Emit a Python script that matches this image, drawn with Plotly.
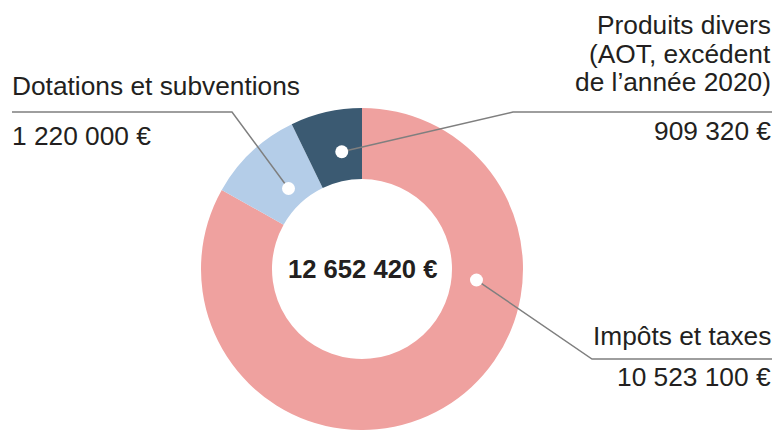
import math
import plotly.graph_objects as go

# ---- data ----
categories = ["Impôts et taxes", "Dotations et subventions", "Produits divers"]
values = [10523100, 1220000, 909320]
label_lines = [
    ["Impôts et taxes"],
    ["Dotations et subventions"],
    ["Produits divers", "(AOT, excédent", "de l’année 2020)"],
]
colors = ["#EFA19F", "#B4CDE8", "#3B5A72"]


def fmt_eur(v):
    return f"{v:,}".replace(",", " ") + " €"


total = sum(values)

# ---- layout constants (pixels) ----
W, H = 777, 430
CX, CY, R = 362, 269, 161
HOLE = 90 / R
FONT = "Liberation Sans, Arial, sans-serif"
TXT = "#231F20"
LINE = "#7F7F7F"
FS = 26.3

# where each label's dot sits (angle clockwise from 12 o'clock, radius px)
dot_anchor = [(95.5, 115), (317.6, 109), (350.2, 119)]
# leader elbows and horizontal rule extents
elbows = [((592, 359), 772), ((232, 112), 12), ((513, 112), 772)]

fig = go.Figure()
fig.add_trace(go.Pie(
    labels=categories, values=values, sort=False, direction="clockwise",
    rotation=0, hole=HOLE, textinfo="none", hoverinfo="label+value",
    marker=dict(colors=colors, line=dict(width=0)), showlegend=False,
    domain=dict(x=[(CX - R) / W, (CX + R) / W], y=[0, (2 * R) / H]),
))

shapes = []
annotations = []
for i, (ang, rad) in enumerate(dot_anchor):
    a = math.radians(ang)
    dx, dy = CX + rad * math.sin(a), CY - rad * math.cos(a)
    (ex, ey), hx = elbows[i]
    shapes.append(dict(type="path", xref="x", yref="y",
                       path=f"M{dx},{dy} L{ex},{ey} L{hx},{ey}",
                       line=dict(color=LINE, width=1.5), layer="above"))
    shapes.append(dict(type="circle", xref="x", yref="y",
                       x0=dx - 6.5, x1=dx + 6.5, y0=dy - 6.5, y1=dy + 6.5,
                       fillcolor="white", line=dict(width=0), layer="above"))

# label text
label_pos = [
    dict(x=773, anchor="right", lines_y=[336], value_y=377),
    dict(x=10, anchor="left", lines_y=[85.5], value_y=135.5),
    dict(x=773, anchor="right", lines_y=[24.5, 53.5, 82], value_y=131),
]
for i, lp in enumerate(label_pos):
    for txt, yy in zip(label_lines[i], lp["lines_y"]):
        annotations.append(dict(x=lp["x"], y=yy, xref="x", yref="y", text=txt,
                                showarrow=False, xanchor=lp["anchor"], yanchor="middle",
                                font=dict(family=FONT, size=FS, color=TXT)))
    annotations.append(dict(x=lp["x"], y=lp["value_y"], xref="x", yref="y",
                            text=fmt_eur(values[i]), showarrow=False,
                            xanchor=lp["anchor"], yanchor="middle",
                            font=dict(family=FONT, size=FS, color=TXT)))

annotations.append(dict(x=CX, y=CY, xref="x", yref="y", text=f"<b>{fmt_eur(total)}</b>",
                        showarrow=False, xanchor="center", yanchor="middle",
                        font=dict(family=FONT, size=25.6, color=TXT)))

fig.update_layout(
    width=W, height=H, margin=dict(l=0, r=0, t=0, b=0),
    paper_bgcolor="white", plot_bgcolor="rgba(0,0,0,0)",
    xaxis=dict(range=[0, W], visible=False, domain=[0, 1], fixedrange=True),
    yaxis=dict(range=[H, 0], visible=False, domain=[0, 1], fixedrange=True),
    shapes=shapes, annotations=annotations,
)

fig.write_html(
    "out.html",
    config={"displayModeBar": False},
    post_script="document.body.style.margin='0';document.body.style.overflow='hidden';",
)
